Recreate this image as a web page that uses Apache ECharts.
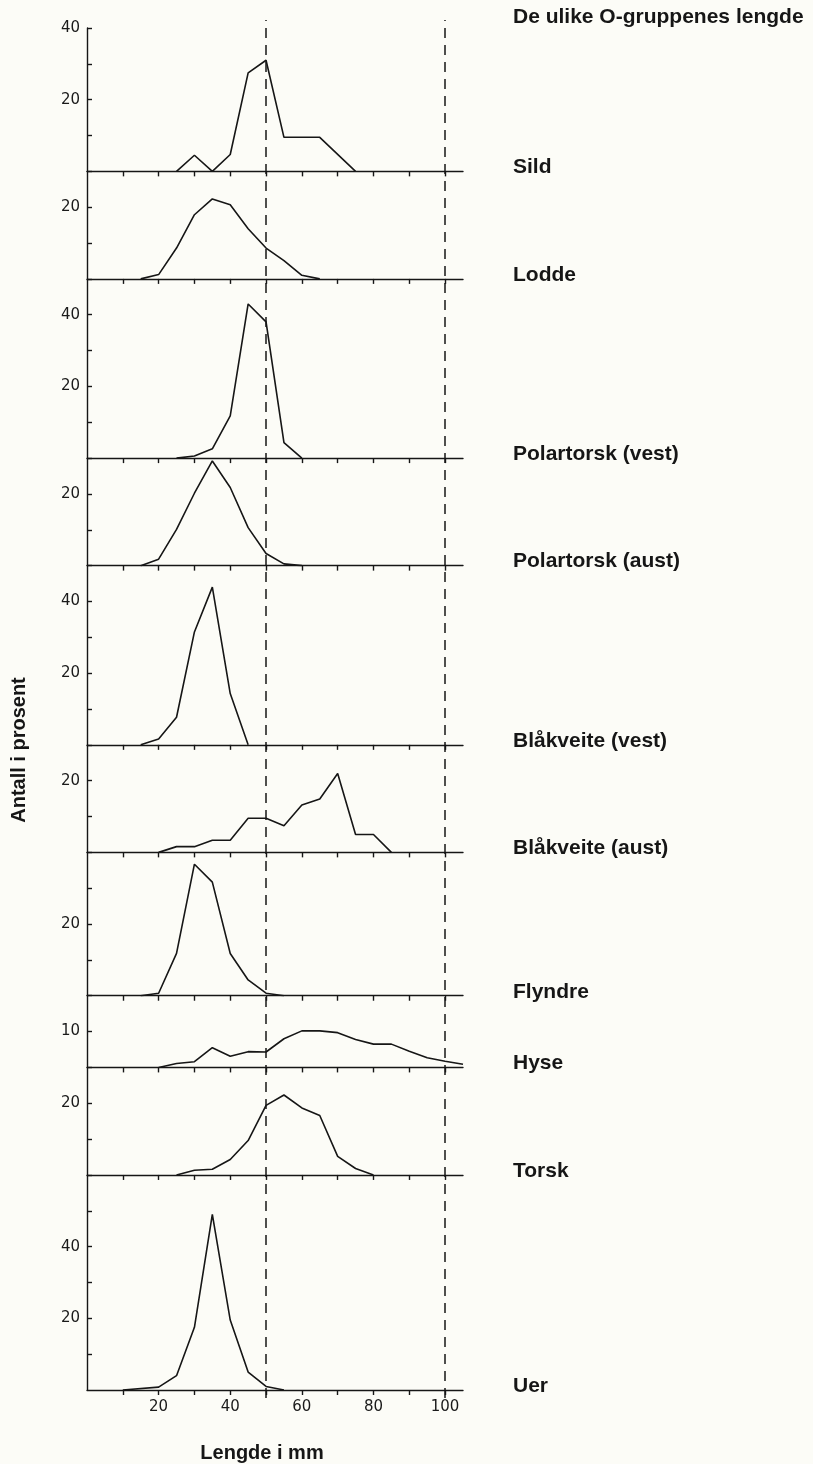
<!DOCTYPE html>
<html>
<head>
<meta charset="utf-8">
<script src="https://cdn.jsdelivr.net/npm/echarts@6/dist/echarts.min.js"></script>
<style>
  html, body { margin: 0; padding: 0; background: #fcfcf7; }
  #chart { width: 813px; height: 1464px; }
</style>
</head>
<body>
<div id="chart"></div>
<script>
// ---------- data ----------
const species = ['Sild', 'Lodde', 'Polartorsk (vest)', 'Polartorsk (aust)', 'Blåkveite (vest)',
  'Blåkveite (aust)', 'Flyndre', 'Hyse', 'Torsk', 'Uer'];
const yMax = [40, 30, 50, 30, 50, 30, 40, 20, 30, 60];
const yLabelled = [[20, 40], [20], [20, 40], [20], [20, 40], [20], [20], [10], [20], [20, 40]];
const xTicks = [10, 20, 30, 40, 50, 60, 70, 80, 90, 100];
const xTickLabels = [20, 40, 60, 80, 100];
const refLines = [50, 100];
const titleText = 'De ulike O-gruppenes lengde';
const xName = 'Lengde i mm';
const yName = 'Antall i prosent';

const sildLen = [25, 30, 35, 40, 45, 50, 55, 65, 75];
const sildPct = [0, 4.5, 0, 4.7, 27.5, 31, 9.5, 9.5, 0];

const loddeLen = [15, 20, 25, 30, 35, 40, 45, 50, 55, 60, 65];
const loddePct = [0, 1.2, 8.6, 17.9, 22.3, 20.7, 14, 8.6, 5.1, 1, 0];

const ptVestLen = [25, 30, 35, 40, 45, 50, 55, 60];
const ptVestPct = [0, 0.6, 2.6, 11.8, 43, 38, 4.3, 0];

const ptAustLen = [15, 20, 25, 30, 35, 40, 45, 50, 55, 60];
const ptAustPct = [0, 1.8, 10.1, 20.2, 29.2, 21.8, 10.6, 3.4, 0.5, 0];

const bkVestLen = [15, 20, 25, 30, 35, 40, 45];
const bkVestPct = [0, 1.6, 7.7, 31.5, 44, 14.3, 0];

const bkAustLen = [20, 25, 30, 35, 40, 45, 50, 55, 60, 65, 70, 75, 80, 85];
const bkAustPct = [0, 1.6, 1.6, 3.4, 3.4, 9.5, 9.5, 7.4, 13.2, 14.9, 22, 5, 5, 0];

const flyndreLen = [15, 20, 25, 30, 35, 40, 45, 50, 55];
const flyndrePct = [0, 0.7, 11.8, 36.7, 31.7, 11.8, 4.4, 0.7, 0];

const hyseLen = [20, 25, 30, 35, 40, 45, 50, 55, 60, 65, 70, 75, 80, 85, 90, 95, 100, 105];
const hysePct = [0, 1.1, 1.6, 5.5, 3.1, 4.4, 4.3, 8, 10.2, 10.2, 9.7, 7.8, 6.5, 6.5, 4.5, 2.7, 1.7, 0.9];

const torskLen = [25, 30, 35, 40, 45, 50, 55, 60, 65, 70, 75, 80];
const torskPct = [0, 1.3, 1.6, 4.3, 9.6, 19.4, 22.3, 18.7, 16.6, 5.2, 1.8, 0];

const uerLen = [10, 20, 25, 30, 35, 40, 45, 50, 55];
const uerPct = [0, 0.8, 4, 17.5, 49, 19.5, 5, 1, 0];

const lengths = [sildLen, loddeLen, ptVestLen, ptAustLen, bkVestLen, bkAustLen, flyndreLen, hyseLen, torskLen, uerLen];
const percents = [sildPct, loddePct, ptVestPct, ptAustPct, bkVestPct, bkAustPct, flyndrePct, hysePct, torskPct, uerPct];

// ---------- layout ----------
const TOP = 28, BOTTOM = 1390, LEFT = 87, WIDTH = 376, X_MAX = 105;
const INK = '#161616';
const FONT = 'Liberation Sans, Arial, sans-serif';
const totalUnits = yMax.reduce((a, b) => a + b, 0);
const unit = (BOTTOM - TOP) / totalUnits;

const grids = [], xAxes = [], yAxes = [], series = [], titles = [];
let cursor = TOP;
species.forEach((name, i) => {
  const h = unit * yMax[i];
  const last = i === species.length - 1;
  grids.push({ left: LEFT, width: WIDTH, top: cursor, height: h });
  const ticks = [];
  for (let v = 10; v <= yMax[i]; v += 10) ticks.push(v);
  xAxes.push({
    type: 'value', gridIndex: i, min: 0, max: X_MAX, interval: 10,
    axisLine: { show: true, onZero: false, lineStyle: { color: INK, width: 1.4 } },
    axisTick: { show: true, inside: false, length: 5, customValues: xTicks, lineStyle: { color: INK, width: 1.4 } },
    axisLabel: {
      show: last, customValues: xTickLabels, margin: 10,
      color: '#1a1a1a', fontSize: 15, fontFamily: 'DejaVu Sans'
    },
    splitLine: { show: false }
  });
  yAxes.push({
    type: 'value', gridIndex: i, min: 0, max: yMax[i], interval: 10,
    axisLine: { show: true, lineStyle: { color: INK, width: 1.4 } },
    axisTick: { show: true, inside: true, length: 5, customValues: ticks, lineStyle: { color: INK, width: 1.4 } },
    axisLabel: {
      show: true, customValues: yLabelled[i], margin: 7,
      color: '#1a1a1a', fontSize: 15, fontFamily: 'DejaVu Sans'
    },
    splitLine: { show: false }
  });
  series.push({
    type: 'line', name, xAxisIndex: i, yAxisIndex: i,
    data: lengths[i].map((x, k) => [x, percents[i][k]]),
    symbol: 'none', silent: true,
    lineStyle: { color: INK, width: 1.6 }
  });
  const baseline = cursor + h;
  titles.push({
    text: name, left: 513, top: baseline - 15, padding: 0,
    textStyle: { fontSize: 21, fontWeight: 'bold', color: INK, fontFamily: FONT, lineHeight: 22 }
  });
  cursor += h;
});

// overlay grid for the dashed reference lines
const ov = species.length;
grids.push({ left: LEFT, width: WIDTH, top: 20, bottom: 1464 - 1398 });
xAxes.push({ type: 'value', gridIndex: ov, min: 0, max: X_MAX, show: false });
yAxes.push({ type: 'value', gridIndex: ov, min: 0, max: 1, show: false });
series.push({
  type: 'line', xAxisIndex: ov, yAxisIndex: ov, data: [], silent: true,
  markLine: {
    silent: true, symbol: 'none', animation: false,
    label: { show: false },
    lineStyle: { color: INK, width: 1.5, type: [10, 7] },
    data: refLines.map(v => ({ xAxis: v }))
  }
});

titles.unshift({
  text: titleText, left: 513, top: 6, padding: 0,
  textStyle: { fontSize: 21, fontWeight: 'bold', color: INK, fontFamily: FONT, lineHeight: 22 }
});

const chart = echarts.init(document.getElementById('chart'), null, { renderer: 'canvas' });
chart.setOption({
  backgroundColor: '#fcfcf7',
  animation: false,
  title: titles,
  grid: grids,
  xAxis: xAxes,
  yAxis: yAxes,
  series,
  graphic: [
    {
      type: 'text', x: 19, y: 750, rotation: Math.PI / 2,
      style: { text: yName, fill: INK, font: 'bold 20px ' + FONT, textAlign: 'center', textVerticalAlign: 'middle' }
    },
    {
      type: 'text', x: 262, y: 1453,
      style: { text: xName, fill: INK, font: 'bold 20px ' + FONT, textAlign: 'center', textVerticalAlign: 'middle' }
    }
  ]
});
</script>
</body>
</html>
